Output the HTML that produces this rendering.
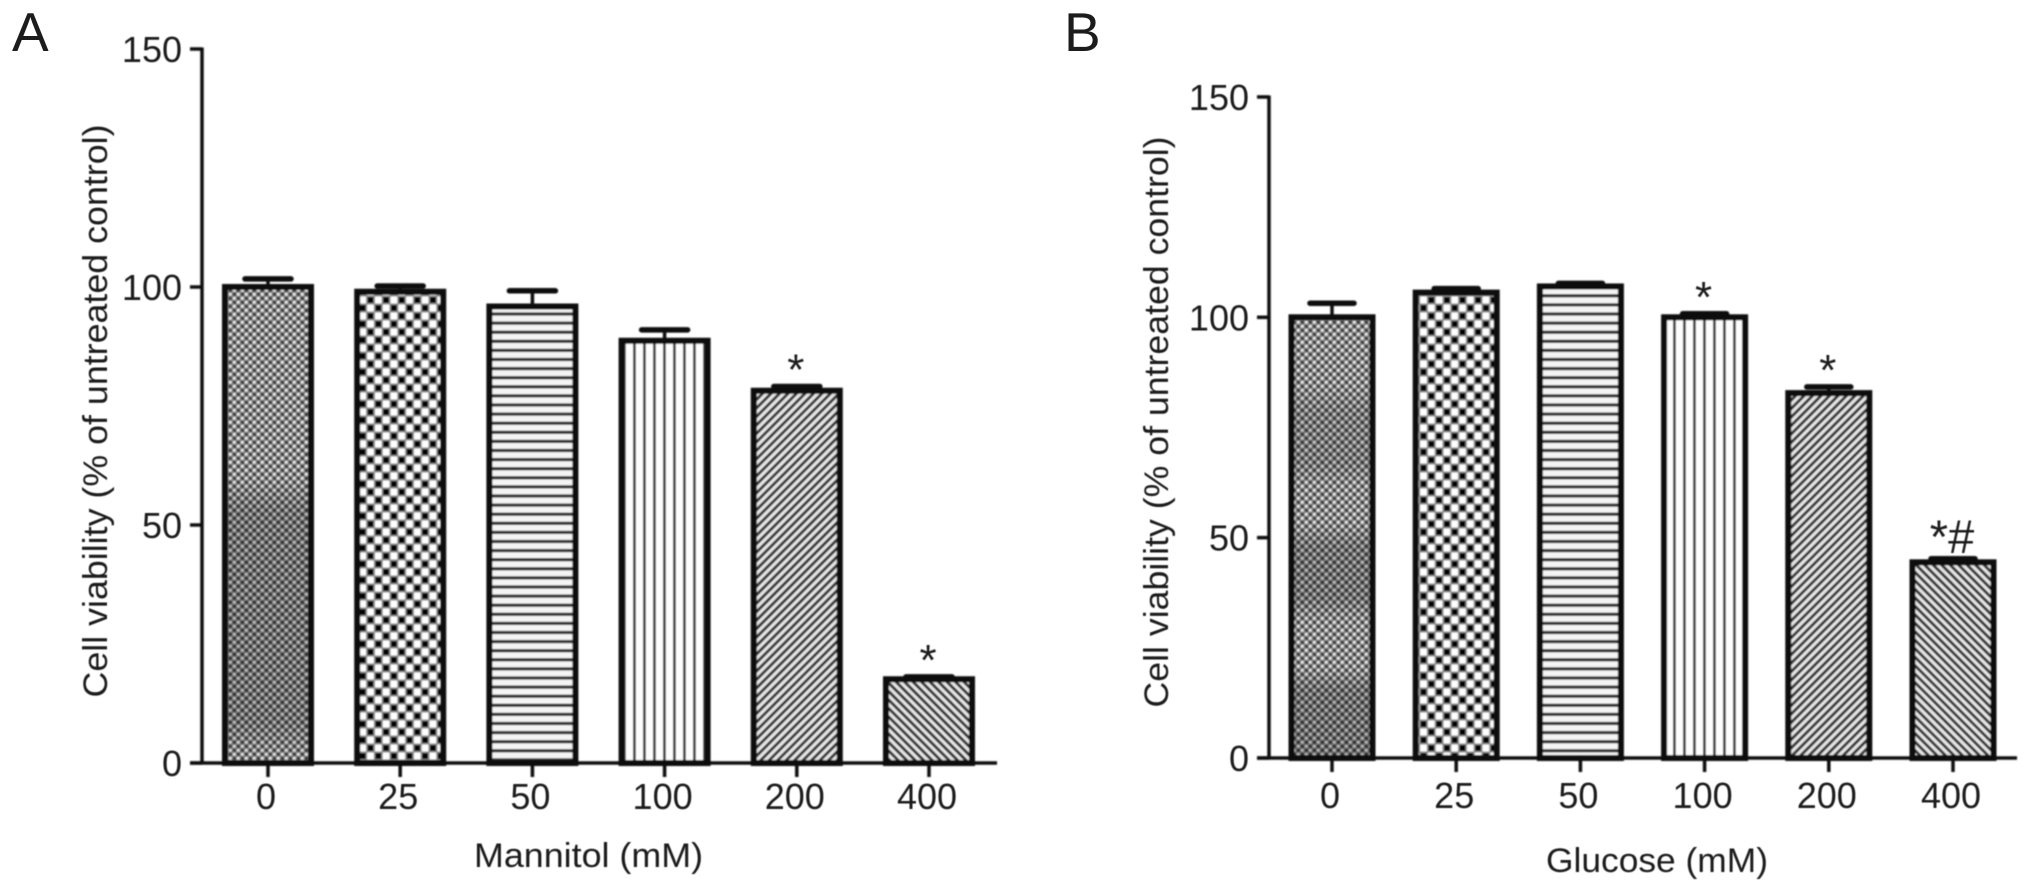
<!DOCTYPE html>
<html lang="en">
<head>
<meta charset="utf-8">
<title>Cell viability bar charts</title>
<style>
html,body{margin:0;padding:0;background:#fff;width:2032px;height:895px;overflow:hidden}
svg{display:block}
text{font-family:"Liberation Sans",Arial,sans-serif;fill:#1c1c1c}
</style>
</head>
<body>
<svg id="figure" xmlns="http://www.w3.org/2000/svg" width="2032" height="895" viewBox="0 0 2032 895">
<defs>
  <filter id="soft" x="-5%" y="-5%" width="110%" height="110%"><feGaussianBlur stdDeviation="0.75"/></filter>
  <filter id="softText" x="-5%" y="-5%" width="110%" height="110%"><feGaussianBlur stdDeviation="0.45"/></filter>
  <pattern id="fill-fine" patternUnits="userSpaceOnUse" width="8" height="8">
    <rect width="8" height="8" fill="#808080"/>
    <rect x="1" y="1" width="2.6" height="2.6" fill="#ececec"/>
    <rect x="5" y="5" width="2.6" height="2.6" fill="#ececec"/>
    <rect x="5" y="1" width="2.6" height="2.6" fill="#222"/>
    <rect x="1" y="5" width="2.6" height="2.6" fill="#222"/>
  </pattern>
  <pattern id="fill-check" patternUnits="userSpaceOnUse" width="15.6" height="16">
    <rect width="15.6" height="16" fill="#8c8c8c"/>
    <rect x="1" y="1" width="5.8" height="6" fill="#000"/>
    <rect x="8.8" y="9" width="5.8" height="6" fill="#000"/>
    <rect x="8.4" y="0.6" width="6.6" height="6.8" fill="#fff"/>
    <rect x="0.6" y="8.6" width="6.6" height="6.8" fill="#fff"/>
  </pattern>
  <pattern id="fill-horizontal" patternUnits="userSpaceOnUse" width="9" height="9.1">
    <rect width="9" height="9.1" fill="#f4f4f4"/>
    <rect y="3" width="9" height="3.2" fill="#2e2e2e"/>
  </pattern>
  <pattern id="fill-vertical" patternUnits="userSpaceOnUse" width="10" height="10">
    <rect width="10" height="10" fill="#fdfdfd"/>
    <rect x="3" width="2.8" height="10" fill="#3a3a3a"/>
  </pattern>
  <pattern id="fill-diag-up" patternUnits="userSpaceOnUse" width="6" height="6" patternTransform="rotate(45)">
    <rect width="6" height="6" fill="#e8e8e8"/>
    <rect width="3" height="6" fill="#333"/>
  </pattern>
  <pattern id="fill-diag-down" patternUnits="userSpaceOnUse" width="6" height="6" patternTransform="rotate(-45)">
    <rect width="6" height="6" fill="#e8e8e8"/>
    <rect width="3" height="6" fill="#333"/>
  </pattern>
  <linearGradient id="moire-a" x1="0" y1="0" x2="0" y2="1">
    <stop offset="0" stop-color="#000" stop-opacity="0"/>
    <stop offset="0.40" stop-color="#000" stop-opacity="0"/>
    <stop offset="0.47" stop-color="#000" stop-opacity="0.2"/>
    <stop offset="0.92" stop-color="#000" stop-opacity="0.2"/>
    <stop offset="1" stop-color="#000" stop-opacity="0"/>
  </linearGradient>
  <linearGradient id="moire-b" x1="0" y1="0" x2="0" y2="1">
    <stop offset="0.15" stop-color="#000" stop-opacity="0"/>
    <stop offset="0.21" stop-color="#000" stop-opacity="0.14"/>
    <stop offset="0.33" stop-color="#000" stop-opacity="0.14"/>
    <stop offset="0.38" stop-color="#000" stop-opacity="0"/>
    <stop offset="0.47" stop-color="#000" stop-opacity="0"/>
    <stop offset="0.52" stop-color="#000" stop-opacity="0.2"/>
    <stop offset="0.64" stop-color="#000" stop-opacity="0.2"/>
    <stop offset="0.69" stop-color="#000" stop-opacity="0"/>
    <stop offset="0.80" stop-color="#000" stop-opacity="0"/>
    <stop offset="0.85" stop-color="#000" stop-opacity="0.22"/>
    <stop offset="1" stop-color="#000" stop-opacity="0.22"/>
  </linearGradient>
</defs>
<rect width="2032" height="895" fill="#fff"/>
<text x="12" y="51" font-size="55">A</text>
<text x="1064" y="51" font-size="55">B</text>
</svg>
<script>
// Shared axis data
const doseLabels = ["0", "25", "50", "100", "200", "400"];
const yTickValues = [0, 50, 100, 150];

// Panel A - Mannitol
const mannitolMeans = [100, 99, 95.9, 88.7, 78.2, 17.6];
const mannitolUpper = [101.7, 100.2, 99.2, 91, 79.1, 18.1];
const mannitolMarks = ["", "", "", "", "*", "*"];

// Panel B - Glucose
const glucoseMeans = [100, 105.6, 107, 100, 82.8, 44.4];
const glucoseUpper = [103.2, 106.5, 107.7, 100.8, 84.2, 45.2];
const glucoseMarks = ["", "", "", "*", "*", "*#"];

const fillIds = ["fill-fine", "fill-check", "fill-horizontal", "fill-vertical", "fill-diag-up", "fill-diag-down"];
const NS = "http://www.w3.org/2000/svg";
const root = document.getElementById("figure");

function make(parent, tag, attrs, content) {
  const el = document.createElementNS(NS, tag);
  for (const k in attrs) el.setAttribute(k, attrs[k]);
  if (content !== undefined) el.textContent = content;
  parent.appendChild(el);
  return el;
}

function drawPanel(cfg) {
  const yScale = v => cfg.y0 - v * cfg.yUnit;
  const xScale = i => cfg.x0 + i * cfg.xStep;
  const sw = cfg.strokeW;

  const panel = make(root, "g", {});
  
  

  const marks = make(panel, "g", {filter: "url(#soft)"});
  
  

  const labels = make(panel, "g", {filter: "url(#softText)"});
  
  

  cfg.means.forEach((v, i) => {
    const cx = xScale(i);
    const top = yScale(v);
    const up = yScale(cfg.upper[i]);
    const left = cx - cfg.barW / 2;

    const stem = make(marks, "line", {x1: cx, x2: cx, y1: top, y2: up, stroke: "#111", "stroke-width": 3.5});
    
    

    const cap = make(marks, "line", {x1: cx - cfg.capW / 2, x2: cx + cfg.capW / 2, y1: up, y2: up, stroke: "#111", "stroke-width": 5.5, "stroke-linecap": "round"});
    
    

    const bar = make(marks, "rect", {x: left, y: top, width: cfg.barW, height: cfg.y0 - top, fill: "url(#" + fillIds[i] + ")", stroke: "#0d0d0d", "stroke-width": sw});
    
    

    if (i === 0) {
      const band = make(marks, "rect", {x: left + sw / 2, y: top + sw / 2, width: cfg.barW - sw, height: cfg.y0 - top - sw, fill: "url(#" + cfg.moire + ")"});
      
      
    }

    const tick = make(marks, "line", {x1: cx, x2: cx, y1: cfg.y0, y2: cfg.y0 + 14, stroke: "#111", "stroke-width": 3.5});
    
    

    const lab = make(labels, "text", {x: cx - 2, y: cfg.xLabelY, "font-size": 36, "text-anchor": "middle"}, doseLabels[i]);
    
    

    if (cfg.marks[i]) {
      const wide = cfg.marks[i].length > 1;
      const sig = make(labels, "text", {x: cx - 1, y: up - (wide ? 6 : 2), "font-size": wide ? 47 : 44, "text-anchor": "middle"}, cfg.marks[i]);
      
      
    }
  });

  const yAxis = make(marks, "line", {x1: cfg.axisX, x2: cfg.axisX, y1: yScale(150) - 1.5, y2: cfg.y0, stroke: "#111", "stroke-width": 3.5});
  
  

  const xAxis = make(marks, "line", {x1: cfg.axisX - 12, x2: cfg.axisEnd, y1: cfg.y0, y2: cfg.y0, stroke: "#111", "stroke-width": 3.5});
  
  

  yTickValues.forEach(t => {
    const y = yScale(t);
    const tick = make(marks, "line", {x1: cfg.axisX - 12, x2: cfg.axisX, y1: y, y2: y, stroke: "#111", "stroke-width": 3.5});
    
    

    const lab = make(labels, "text", {x: cfg.axisX - 20, y: y + 13, "font-size": 36, "text-anchor": "end"}, String(t));
    
    
  });

  const yTitle = make(labels, "text", {
    transform: "translate(" + cfg.yTitleX + "," + cfg.yTitleY + ") rotate(-90)",
    "text-anchor": "middle", "font-size": 34,
    textLength: cfg.yTitleLen, lengthAdjust: "spacingAndGlyphs"
  }, "Cell viability (% of untreated control)");
  
  

  const xTitle = make(labels, "text", {
    x: cfg.xTitleX, y: cfg.xTitleY, "font-size": 34,
    textLength: cfg.xTitleLen, lengthAdjust: "spacingAndGlyphs"
  }, cfg.xTitle);
  
  
}

drawPanel({
  key: "mannitol", means: mannitolMeans, upper: mannitolUpper, marks: mannitolMarks, moire: "moire-a",
  x0: 268, xStep: 132.2, y0: 763, yUnit: 4.76, barW: 86, capW: 46, strokeW: 6,
  axisX: 202, axisEnd: 997, xLabelY: 809,
  yTitleX: 107, yTitleY: 411, yTitleLen: 573,
  xTitle: "Mannitol (mM)", xTitleX: 474, xTitleY: 867, xTitleLen: 229
});

drawPanel({
  key: "glucose", means: glucoseMeans, upper: glucoseUpper, marks: glucoseMarks, moire: "moire-b",
  x0: 1332, xStep: 124.2, y0: 758, yUnit: 4.407, barW: 81, capW: 44, strokeW: 6,
  axisX: 1269, axisEnd: 2017, xLabelY: 808,
  yTitleX: 1168, yTitleY: 422, yTitleLen: 571,
  xTitle: "Glucose (mM)", xTitleX: 1546, xTitleY: 872, xTitleLen: 222
});
</script>
</body>
</html>
